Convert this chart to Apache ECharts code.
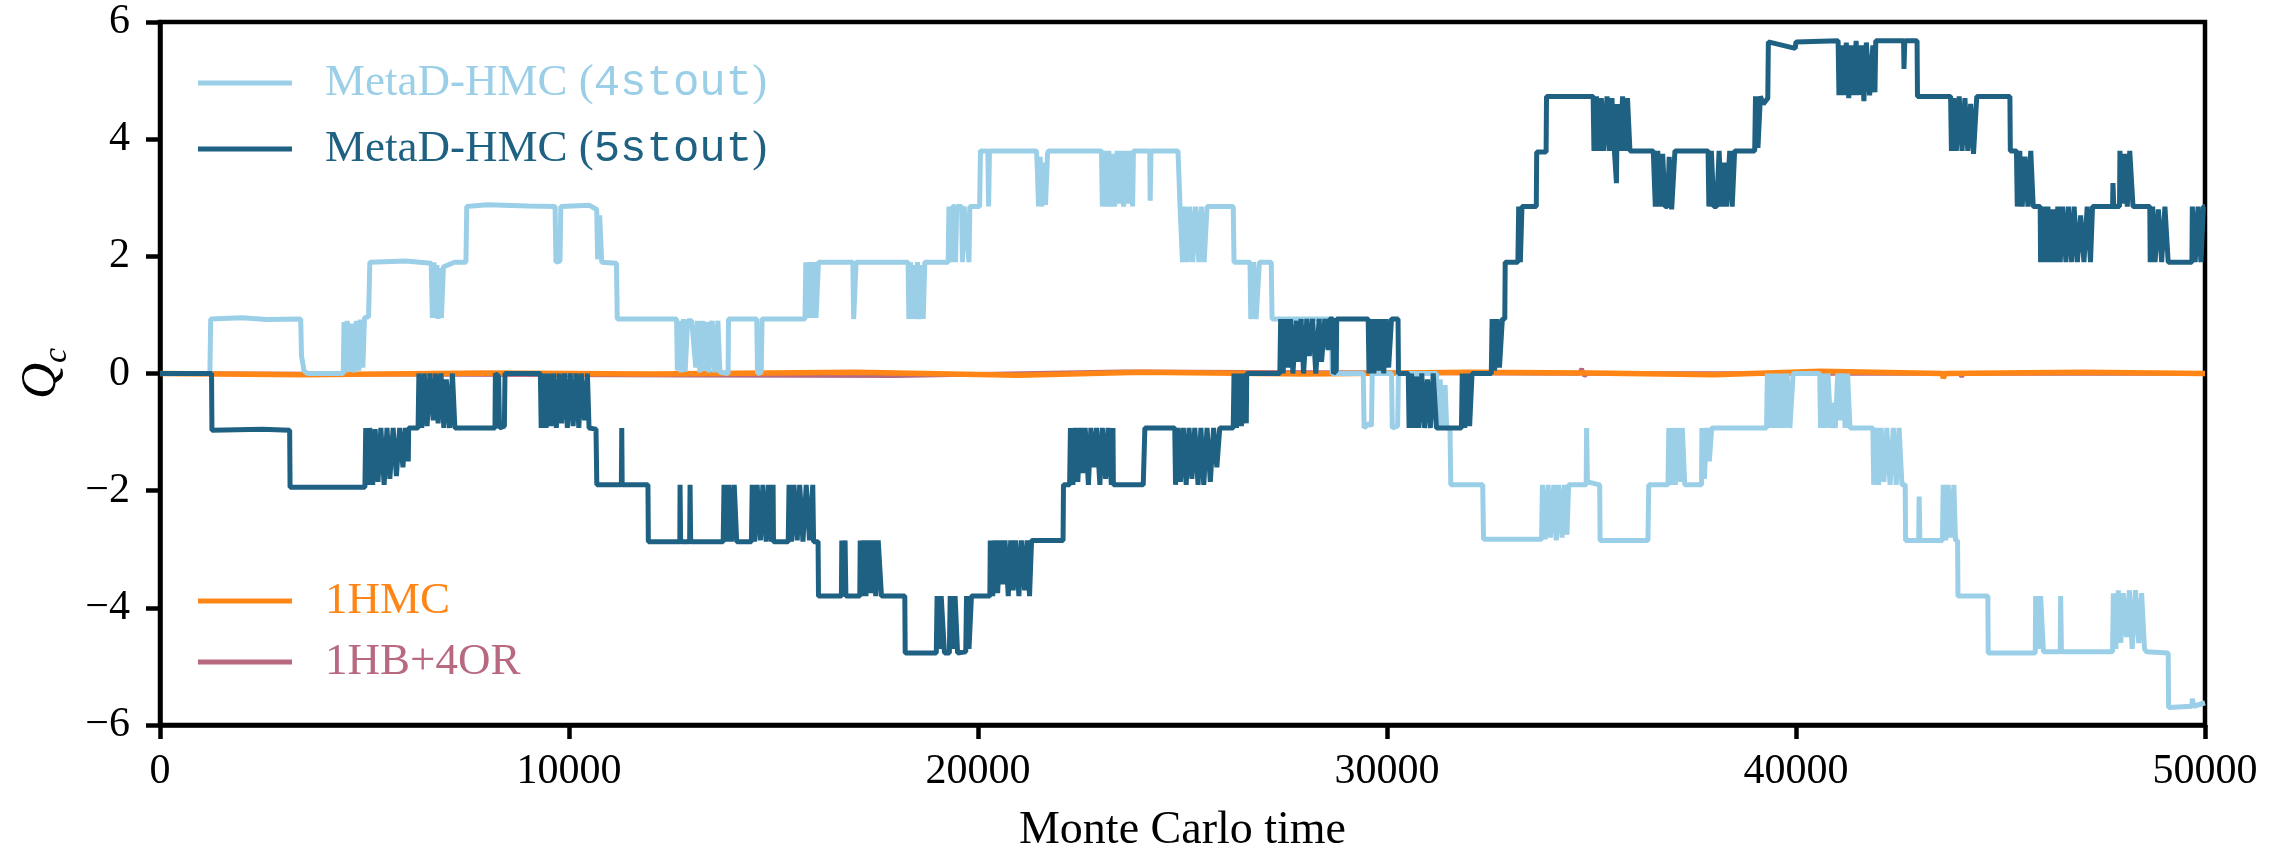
<!DOCTYPE html>
<html>
<head>
<meta charset="utf-8">
<script src="https://cdn.jsdelivr.net/npm/echarts@6/dist/echarts.min.js"></script>
<style>
  html, body { margin: 0; padding: 0; background: #fff; }
  #chart { width: 2293px; height: 848px; }
</style>
</head>
<body>
<div id="chart"></div>
<script>
  // Monte Carlo time ticks and Q_c ticks
  var xTicks = [0, 10000, 20000, 30000, 40000, 50000];
  var yTicks = [-6, -4, -2, 0, 2, 4, 6];

  // MetaD-HMC (4stout) as [MC time, Q_c]
  var stout4 = [
    [0,0],[1220,0],[1240,0.93],[2000,0.95],[2600,0.92],[3440,0.93],[3460,0.3],[3520,0.05],[3600,0],[4480,0],
    [4500,0.88],[4540,0.02],[4580,0.9],[4620,0.03],[4700,0.85],[4740,0.02],[4800,0.9],[4860,0.05],[4900,0.92],[4960,0.1],[5000,0.95],[5100,0.97],[5130,1.9],
    [6000,1.92],[6630,1.88],[6660,0.95],[6700,1.9],[6730,0.95],[6770,1.85],[6800,0.93],[6850,1.8],[6880,0.95],[6930,1.82],[7200,1.9],[7480,1.9],[7500,2.85],
    [8000,2.88],[9000,2.86],[9660,2.85],[9680,1.9],[9780,1.92],[9800,2.85],[10500,2.87],[10677,2.8],[10700,1.95],[10750,2.7],[10800,1.9],[11160,1.88],[11180,0.93],
    [12630,0.93],[12650,0.05],[12700,0.9],[12740,0.02],[12800,0.93],[12840,0.03],[12900,0.9],[13000,0.9],[13100,0.1],[13140,0.9],[13200,0.02],[13260,0.9],[13300,0.05],
    [13380,0.88],[13420,0.02],[13500,0.9],[13560,0.02],[13640,0.9],[13690,0.02],[13890,0],[13900,0.93],[14590,0.93],[14610,0],[14700,0.02],[14720,0.93],[15770,0.93],
    [15790,1.9],[15830,0.95],[15880,1.9],[15920,0.95],[15990,1.9],[16040,0.95],[16100,1.9],[16940,1.9],[16960,0.93],[17000,0.95],[17020,1.9],[18290,1.9],
    [18310,0.93],[18350,1.9],[18380,0.93],[18430,1.85],[18460,0.93],[18520,1.9],[18560,0.93],[18620,1.85],[18660,0.93],[18700,1.9],[19270,1.9],
    [19290,2.85],[19340,1.9],[19380,2.85],[19430,2.85],[19450,1.9],[19480,2.85],[19600,2.85],[19620,1.9],[19660,2.85],[19780,1.9],[19800,2.85],[20040,2.85],[20060,3.8],
    [20240,3.8],[20260,2.85],[20280,3.8],[21430,3.8],[21450,3.5],[21480,2.85],[21520,3.7],[21560,2.85],[21600,3.6],[21650,2.88],[21700,3.75],[21720,3.8],[23020,3.8],
    [23040,2.85],[23100,3.8],[23140,2.85],[23200,3.8],[23240,2.85],[23300,3.75],[23340,2.85],[23400,3.8],[23450,2.9],[23500,3.8],[23560,2.85],[23620,3.8],[23680,2.9],
    [23740,3.8],[23780,2.85],[23800,3.8],[24200,3.8],[24210,2.95],[24230,3.8],[24890,3.8],
    [24940,2.85],[25000,1.9],[25050,2.85],[25120,1.9],[25180,2.85],[25250,1.9],[25320,2.85],[25400,1.9],[25460,2.85],[25530,1.9],[25600,2.85],[26240,2.85],[26260,1.9],
    [26650,1.9],[26670,0.93],[26740,1.9],[26800,0.93],[26880,1.9],[27170,1.9],[27190,0.93],[28640,0.93],[28660,0],
    [29420,0],[29440,-0.93],[29560,-0.85],[29620,-0.9],[29640,0],[30110,0],[30130,-0.93],[30260,-0.9],[30280,0],[31210,0],[31230,-0.93],[31300,-0.1],[31360,-0.93],
    [31420,-0.2],[31460,-0.93],[31540,-0.93],[31560,-1.9],[32340,-1.9],[32360,-2.83],[33780,-2.83],
    [33800,-1.9],[33870,-2.83],[33940,-1.9],[34000,-2.8],[34080,-1.9],[34140,-2.85],[34200,-1.9],[34280,-2.8],[34340,-1.9],[34400,-2.75],[34440,-1.9],[34870,-1.9],
    [34880,-0.93],[34900,-1.85],[35200,-1.9],[35210,-2.85],[36380,-2.85],[36400,-1.9],[36870,-1.9],
    [36890,-0.93],[36940,-1.9],[36990,-0.93],[37050,-1.9],[37100,-0.93],[37180,-1.85],[37220,-0.93],[37280,-1.9],[37690,-1.9],[37700,-0.93],[37760,-1.8],[37820,-0.93],
    [37880,-1.5],[37940,-0.93],[39280,-0.93],
    [39300,0],[39360,-0.93],[39420,0],[39480,-0.93],[39540,0],[39600,-0.93],[39660,0],[39720,-0.93],[39780,0],[39850,-0.93],[39930,0],[40580,0],
    [40600,-0.93],[40660,0],[40720,-0.93],[40780,0],[40850,-0.93],[40900,-0.5],[40960,-0.93],[41020,0],[41080,-0.8],[41140,0],[41200,-0.93],[41260,0],[41320,-0.93],[41880,-0.93],
    [41900,-1.9],[41960,-0.93],[42020,-1.9],[42080,-0.93],[42150,-1.85],[42220,-0.93],[42300,-1.9],[42380,-0.93],[42450,-1.9],[42520,-0.93],[42590,-1.9],[42670,-1.9],
    [42680,-2.85],[43000,-2.85],[43010,-2.1],[43030,-2.85],[43580,-2.85],[43600,-1.9],[43660,-2.85],[43720,-1.9],[43780,-2.8],[43860,-1.9],[43900,-2.85],[43950,-2.85],
    [43960,-3.8],[44690,-3.8],[44700,-4.77],[45850,-4.77],[45860,-3.8],[45920,-4.7],[45980,-3.8],[46050,-4.75],[46460,-4.75],[46470,-3.8],[46490,-4.75],[47740,-4.75],
    [47760,-3.75],[47820,-4.7],[47880,-3.7],[47940,-4.6],[48000,-3.75],[48080,-4.5],[48150,-3.7],[48220,-4.7],[48300,-3.7],[48380,-4.6],[48450,-3.75],[48520,-4.7],
    [48570,-4.75],[49100,-4.77],[49110,-5.7],[49680,-5.68],[49690,-5.55],[49720,-5.68],[50000,-5.62]
  ];

  // MetaD-HMC (5stout)
  var stout5 = [
    [0,0],[1260,0],[1270,-0.97],[2500,-0.95],[3170,-0.97],[3180,-1.94],[5010,-1.94],
    [5030,-0.93],[5080,-1.9],[5130,-0.93],[5200,-1.9],[5260,-0.95],[5330,-1.85],[5400,-0.93],[5480,-1.9],[5550,-0.93],[5620,-1.8],[5700,-0.93],[5780,-1.75],
    [5860,-0.93],[5940,-1.6],[6000,-0.93],[6070,-1.5],[6080,-0.93],[6310,-0.93],
    [6330,0],[6400,-0.93],[6460,0],[6530,-0.9],[6600,0],[6680,-0.8],[6740,0],[6800,-0.85],[6870,0],[6940,-0.93],[7000,-0.1],[7080,-0.93],[7150,0],[7210,-0.93],
    [8190,-0.93],[8200,0],[8280,-0.05],[8300,-0.93],[8420,-0.9],[8435,0],[9300,0],
    [9320,-0.93],[9380,0],[9440,-0.93],[9500,0],[9560,-0.9],[9620,0],[9690,-0.93],[9760,0],[9820,-0.85],[9890,0],[9960,-0.93],[10030,0],[10100,-0.9],[10170,0],
    [10240,-0.93],[10300,0],[10380,-0.8],[10450,0],[10490,-0.93],[10660,-0.95],[10680,-1.9],[11280,-1.9],[11290,-0.93],[11300,-1.9],[11930,-1.9],[11940,-2.87],
    [12710,-2.87],[12715,-1.9],[12730,-2.87],[12950,-2.87],[12960,-1.9],[12975,-2.87],[13770,-2.87],
    [13790,-1.9],[13850,-2.87],[13910,-1.9],[13970,-2.87],[14040,-1.9],[14100,-2.87],[14460,-2.87],
    [14480,-1.9],[14540,-2.87],[14600,-1.9],[14680,-2.85],[14740,-1.9],[14820,-2.87],[14880,-1.9],[14950,-2.87],[14990,-1.9],[15000,-2.87],[15360,-2.87],
    [15380,-1.9],[15440,-2.87],[15500,-1.9],[15580,-2.85],[15640,-1.9],[15720,-2.87],[15800,-1.9],[15880,-2.85],[15960,-1.9],[15980,-2.87],[16090,-2.87],[16100,-3.8],
    [16660,-3.8],[16670,-2.85],[16690,-3.8],[16750,-2.85],[16770,-3.8],[17110,-3.8],[17120,-2.85],[17140,-3.8],[17200,-2.85],[17260,-3.8],[17320,-2.85],[17380,-3.75],
    [17440,-2.85],[17500,-3.8],[17560,-2.85],[17640,-3.8],[18210,-3.8],[18220,-4.77],[18980,-4.77],
    [19000,-3.8],[19060,-4.7],[19100,-3.8],[19180,-4.77],[19300,-4.77],[19320,-3.8],[19380,-4.7],[19440,-3.8],[19500,-4.77],[19700,-4.75],[19720,-3.8],[19780,-4.7],
    [19840,-3.8],[20290,-3.8],
    [20300,-2.85],[20360,-3.8],[20420,-2.85],[20480,-3.75],[20540,-2.85],[20600,-3.6],[20660,-2.85],[20740,-3.8],[20800,-2.85],[20860,-3.7],[20920,-2.85],[21000,-3.8],
    [21060,-2.85],[21140,-3.7],[21200,-2.85],[21260,-3.8],[21310,-2.85],[22080,-2.85],[22090,-1.9],[22240,-1.9],
    [22260,-0.93],[22320,-1.9],[22380,-0.93],[22440,-1.85],[22500,-0.93],[22560,-1.7],[22620,-0.93],[22700,-1.9],[22760,-0.93],[22840,-1.6],[22900,-0.93],[22980,-1.9],
    [23040,-0.93],[23120,-1.8],[23180,-0.93],[23260,-1.9],[23300,-0.93],[23310,-1.9],[24040,-1.9],[24080,-0.93],[24810,-0.93],
    [24830,-1.9],[24890,-0.93],[24950,-1.85],[25020,-0.93],[25090,-1.9],[25160,-0.93],[25230,-1.8],[25300,-0.93],[25380,-1.9],[25450,-0.93],[25520,-1.9],[25600,-0.93],
    [25680,-1.85],[25760,-0.93],[25840,-1.6],[25910,-0.93],[26240,-0.93],
    [26260,0],[26320,-0.93],[26380,0],[26440,-0.9],[26500,0],[26560,-0.85],[26570,0],[27380,0],
    [27400,0.93],[27460,0],[27520,0.93],[27580,0.1],[27640,0.93],[27700,0],[27780,0.9],[27840,0.2],[27900,0.93],[27960,0],[28040,0.93],[28100,0.3],[28180,0.93],
    [28260,0],[28340,0.93],[28400,0.2],[28480,0.93],[28560,0.4],[28600,0.93],[28680,0.93],[28690,0],[28760,0.05],[28770,0.93],[29540,0.93],
    [29560,0],[29620,0.93],[29680,0],[29740,0.93],[29800,0.05],[29860,0.93],[29920,0],[29980,0.93],[30040,0.1],[30110,0.93],[30270,0.93],[30280,0],[30520,0],
    [30540,-0.93],[30600,0],[30660,-0.93],[30720,-0.05],[30780,-0.93],[30850,0],[30920,-0.93],[30990,-0.1],[31060,-0.93],[31130,0],[31210,-0.93],[31820,-0.93],
    [31840,0],[31900,-0.93],[31960,0],[32020,-0.9],[32080,0],[32550,0],
    [32570,0.93],[32630,0.05],[32690,0.93],[32750,0.1],[32820,0.93],[32880,0.93],[32890,1.9],[33200,1.9],[33220,2.85],[33260,1.9],[33300,2.85],[33650,2.85],
    [33660,3.78],[33890,3.78],[33900,4.73],[35040,4.73],
    [35060,3.8],[35120,4.73],[35180,3.8],[35240,4.7],[35300,3.8],[35380,4.73],[35440,3.8],[35500,4.7],[35560,3.8],[35610,3.25],[35630,4.6],[35700,3.8],[35760,4.73],
    [35820,3.8],[35880,4.7],[35940,3.8],[36510,3.8],
    [36560,2.85],[36620,3.8],[36680,2.85],[36740,3.75],[36800,2.85],[36860,2.85],[36900,3.7],[36960,2.8],[37040,3.8],[37850,3.8],
    [37870,2.85],[37930,3.8],[37990,2.85],[38060,2.85],[38120,3.8],[38180,2.85],[38240,3.6],[38300,2.85],[38380,3.8],[38440,2.85],[38500,3.8],[38990,3.8],
    [39010,4.73],[39070,3.85],[39130,4.73],[39200,4.6],[39310,4.7],[39324,5.66],[39980,5.55],[40000,5.66],[41030,5.68],
    [41050,4.75],[41110,5.6],[41170,4.75],[41230,5.65],[41290,4.7],[41350,5.6],[41410,4.75],[41470,5.68],[41530,4.75],[41600,5.6],[41660,4.65],[41720,5.65],
    [41800,4.75],[41880,5.6],[41930,4.8],[41950,5.68],[42630,5.68],[42640,5.2],[42660,5.68],[42960,5.68],[42970,4.73],[43780,4.73],
    [43800,3.8],[43860,4.7],[43920,3.8],[43990,4.73],[44060,3.8],[44130,4.7],[44200,3.8],[44270,4.6],[44340,3.75],[44420,4.73],[45230,4.73],[45240,3.8],[45390,3.8],
    [45410,2.85],[45470,3.8],[45530,2.85],[45600,3.7],[45670,2.85],[45740,3.8],[45800,2.85],[45970,2.85],[45980,1.9],
    [46040,2.85],[46100,1.9],[46160,2.85],[46220,1.9],[46280,2.8],[46340,1.9],[46400,2.85],[46460,1.9],[46520,2.85],[46600,1.9],[46660,2.85],[46740,1.9],[46800,2.85],
    [46880,1.9],[46960,2.7],[47040,1.9],[47120,2.85],[47200,1.9],[47250,2.85],[47740,2.85],[47750,3.25],[47770,2.85],[47910,2.85],[47920,3.8],[47980,2.9],[48040,3.75],
    [48100,2.85],[48160,3.8],[48240,2.85],[48650,2.85],[48660,1.9],[48720,2.85],[48780,1.9],[48860,2.8],[48940,1.9],[49020,2.85],[49100,1.9],[49680,1.9],
    [49690,2.85],[49760,1.9],[49830,2.85],[49900,1.9],[49960,2.85],[50000,2.85]
  ];

  // 1HMC
  var hmc = [
    [0,0],[3500,-0.02],[8000,0.01],[12000,-0.01],[17000,0.02],[21000,-0.03],[24000,0.02],[28000,-0.01],
    [32000,0.02],[35000,0.01],[38000,-0.02],[40600,0.04],[43580,0],[43600,-0.08],[43650,0],[47000,0.02],[50000,0]
  ];

  // 1HB+4OR
  var hbor = [
    [0,0],[13000,-0.03],[18000,-0.04],[23500,0.03],[34700,0],[34760,0.08],[34820,-0.04],[34900,0],[44000,0],[44050,-0.05],[44100,0],[50000,0]
  ];

  var colors = {
    s4: '#9bcfe8',
    s5: '#1f6182',
    hmc: '#ff8616',
    hbor: '#b8687f'
  };
  var serif = 'Liberation Serif';
  var mono = 'Liberation Mono';

  function legendFor(name, color, top, fmt) {
    return {
      data: [name],
      left: 198,
      top: top,
      padding: 0,
      icon: 'rect',
      itemWidth: 94,
      itemHeight: 5,
      selectedMode: false,
      formatter: function () { return fmt; },
      textStyle: {
        color: color,
        fontFamily: serif,
        fontSize: 45,
        lineHeight: 52,
        rich: {
          sp: { width: 28, fontSize: 45 },
          a: { color: color, fontFamily: serif, fontSize: 45 },
          m: { color: color, fontFamily: mono, fontSize: 44 }
        }
      }
    };
  }

  var chart = echarts.init(document.getElementById('chart'));

  function lineSeries(name, data, color, width, z) {
    return {
      name: name,
      type: 'line',
      data: data,
      showSymbol: false,
      symbol: 'none',
      silent: true,
      z: z,
      lineStyle: { color: color, width: width },
      itemStyle: { color: color }
    };
  }

  chart.setOption({
    animation: false,
    backgroundColor: '#fff',
    grid: {
      left: 160, right: 88, top: 22, bottom: 123,
      outerBoundsMode: 'none',
      containLabel: false,
      show: true, borderColor: '#000', borderWidth: 4.5, backgroundColor: 'transparent'
    },
    legend: [
      legendFor('MetaD-HMC (4stout)', colors.s4, 57, '{sp|}{a|MetaD-HMC (}{m|4stout}{a|)}'),
      legendFor('MetaD-HMC (5stout)', colors.s5, 123, '{sp|}{a|MetaD-HMC (}{m|5stout}{a|)}'),
      legendFor('1HMC', colors.hmc, 575, '{sp|}{a|1HMC}'),
      legendFor('1HB+4OR', colors.hbor, 636, '{sp|}{a|1HB+4OR}')
    ],
    xAxis: {
      type: 'value',
      min: xTicks[0],
      max: xTicks[xTicks.length - 1],
      interval: xTicks[1] - xTicks[0],
      name: 'Monte Carlo time',
      nameLocation: 'middle',
      nameGap: 83,
      nameTextStyle: { fontFamily: serif, fontSize: 46, color: '#000' },
      axisLine: { show: true, onZero: false, lineStyle: { color: '#000', width: 4.5 } },
      axisTick: { show: true, inside: false, length: 14, lineStyle: { color: '#000', width: 4.5 } },
      axisLabel: {
        fontFamily: serif, fontSize: 42, color: '#000', margin: 26,
        formatter: function (v) { return String(v); }
      },
      splitLine: { show: false }
    },
    yAxis: {
      type: 'value',
      min: yTicks[0],
      max: yTicks[yTicks.length - 1],
      interval: yTicks[1] - yTicks[0],
      name: '{q|Q}{s|c}',
      nameLocation: 'middle',
      nameGap: 84,
      nameRotate: 90,
      nameTextStyle: {
        rich: {
          q: { fontFamily: serif, fontStyle: 'italic', fontSize: 50, color: '#000', verticalAlign: 'bottom' },
          s: { fontFamily: serif, fontStyle: 'italic', fontSize: 34, color: '#000', verticalAlign: 'bottom', padding: [0, 0, -8, 0] }
        }
      },
      axisLine: { show: true, onZero: false, lineStyle: { color: '#000', width: 4.5 } },
      axisTick: { show: true, inside: false, length: 14, lineStyle: { color: '#000', width: 4.5 } },
      axisLabel: {
        fontFamily: serif, fontSize: 42, color: '#000', margin: 30,
        formatter: function (v) { return v < 0 ? '\u2212' + Math.abs(v) : String(v); }
      },
      splitLine: { show: false }
    },
    series: [
      lineSeries('1HB+4OR', hbor, colors.hbor, 4.5, 1),
      lineSeries('1HMC', hmc, colors.hmc, 5.5, 2),
      lineSeries('MetaD-HMC (4stout)', stout4, colors.s4, 5, 3),
      lineSeries('MetaD-HMC (5stout)', stout5, colors.s5, 5, 4)
    ]
  });
</script>
</body>
</html>
